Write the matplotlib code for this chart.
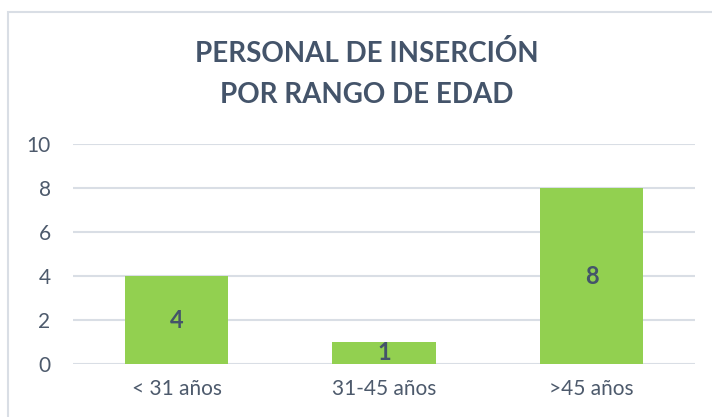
import matplotlib.pyplot as plt
from matplotlib.patches import Rectangle

# Chart data
categories = ['< 31 años', '31-45 años', '>45 años']
values = [4, 1, 8]
yticks = [0, 2, 4, 6, 8, 10]
title = 'PERSONAL DE INSERCIÓN\nPOR RANGO DE EDAD'

barColor = '#92D050'
titleColor = '#44546A'
tickColor = '#4d5a6c'
gridColor = '#d9dee5'

plt.rcParams['font.family'] = ['Lato', 'DejaVu Sans']

fig = plt.figure(figsize=(7.12, 4.17), dpi=100)
# outer chart border (cut off at right and bottom in the original)
fig.patches.append(Rectangle((8 / 712, -0.05), 1.0, 1 - 12 / 417 + 0.05,
                             transform=fig.transFigure, fill=False,
                             edgecolor=gridColor, linewidth=1.5))

ax = fig.add_axes([72.75 / 712, 1 - 364 / 417, 622.5 / 712, 220 / 417])
x = range(len(categories))
bars = ax.bar(x, values, width=0.5, color=barColor, zorder=3)

for b, v in zip(bars, values):
    ax.text(b.get_x() + b.get_width() / 2, v / 2, str(v), ha='center', va='center',
            fontsize=17, fontweight='bold', color=titleColor, zorder=4)

ax.set_xlim(-0.5, len(categories) - 0.5)
ax.set_ylim(0, 10)
ax.set_yticks(yticks)
ax.set_xticks(list(x))
ax.set_xticklabels(categories)
ax.tick_params(axis='both', length=0, labelsize=15, labelcolor=tickColor)
ax.tick_params(axis='y', pad=16)
ax.tick_params(axis='x', pad=11)
for s in ax.spines.values():
    s.set_visible(False)
ax.grid(axis='y', color=gridColor, linewidth=1.5, zorder=0)
ax.set_axisbelow(True)

fig.text(367 / 712, 1 - 74 / 417, title, ha='center', va='center',
         fontsize=20, fontweight='bold', color=titleColor, linespacing=1.75)

fig.savefig('out.png', dpi=100)
